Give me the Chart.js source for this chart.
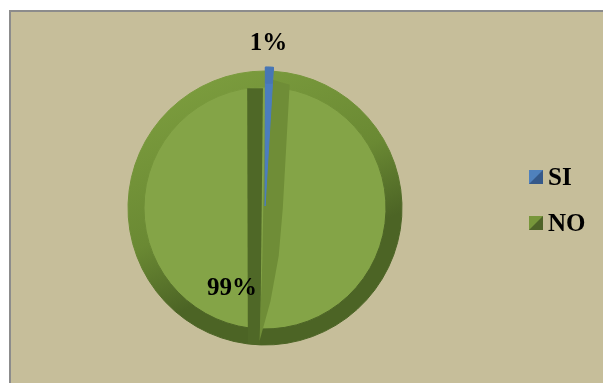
<!DOCTYPE html>
<html>
<head>
<meta charset="utf-8">
<script src="https://cdn.jsdelivr.net/npm/chart.js@4/dist/chart.umd.min.js"></script>
<style>
  html, body { margin: 0; padding: 0; background: #ffffff; }
  canvas { display: block; }
</style>
</head>
<body>
<canvas id="pie" width="603" height="383"></canvas>
<script>
// Answers to the survey question
const categories = ['SI', 'NO'];
const shares = [1, 99];

// Slice colours: flat face, bevelled rim, legend swatch halves
const faceColors = ['#4B7DBF', '#84A447'];
const rimLight = ['#4776B5', '#7C9D3E'];
const rimDark = ['#355E94', '#4C6425'];
const swatchLight = ['#4F81BD', '#77963A'];
const swatchDark = ['#35598A', '#4E6328'];

const FONT = 'bold 25px "Liberation Serif", "Times New Roman", serif';

function rimGradient(ctx, i) {
  const chart = ctx.chart;
  const area = chart.chartArea;
  if (!area) return rimLight[i];
  const cx = (area.left + area.right) / 2;
  const cy = (area.top + area.bottom) / 2;
  const r = (area.right - area.left) / 2;
  const g = chart.ctx.createLinearGradient(cx - r * 0.45, cy - r, cx + r * 0.45, cy + r);
  g.addColorStop(0, rimLight[i]);
  g.addColorStop(0.45, i === 1 ? '#6A8933' : rimLight[i]);
  g.addColorStop(0.7, rimDark[i]);
  g.addColorStop(1, rimDark[i]);
  return g;
}

// Panel background with its grey frame
const backdrop = {
  id: 'backdrop',
  beforeDraw(chart) {
    const c = chart.ctx;
    c.save();
    c.fillStyle = '#ffffff';
    c.fillRect(0, 0, chart.width, chart.height);
    c.fillStyle = '#C6BE9A';
    c.fillRect(10, 11, chart.width - 10, chart.height - 11);
    c.fillStyle = '#8C8C8C';
    c.fillRect(9, 10, 2, chart.height - 10);
    c.fillRect(9, 10, chart.width - 9, 2);
    c.restore();
  }
};

// Bevel facets along the slice edges, then the small slice on top
const bevel = {
  id: 'bevel',
  afterDatasetsDraw(chart) {
    const c = chart.ctx;
    const rimMeta = chart.getDatasetMeta(0);
    const faceMeta = chart.getDatasetMeta(1);
    const big = rimMeta.data[1];
    const cx = big.x, cy = big.y, r = big.outerRadius;
    c.save();
    c.beginPath();
    c.arc(cx, cy, r, 0, Math.PI * 2);
    c.clip();
    // shadowed facet (left of the seam)
    c.fillStyle = '#4F6827';
    c.beginPath();
    c.moveTo(cx - r * 0.13, cy - r * 0.875);
    c.lineTo(cx - r * 0.015, cy - r * 0.875);
    c.lineTo(cx - r * 0.035, cy + r * 1.05);
    c.lineTo(cx - r * 0.125, cy + r * 1.05);
    c.closePath();
    c.fill();
    // lit facet (right of the seam)
    c.fillStyle = '#6F8D37';
    c.beginPath();
    c.moveTo(cx + r * 0.005, cy - r * 0.95);
    c.lineTo(cx + r * 0.18, cy - r * 0.9);
    c.lineTo(cx + r * 0.13, cy);
    c.lineTo(cx + r * 0.1, cy + r * 0.35);
    c.lineTo(cx + r * 0.04, cy + r * 0.68);
    c.lineTo(cx - r * 0.04, cy + r * 0.97);
    c.lineTo(cx - r * 0.02, cy + r * 0.4);
    c.closePath();
    c.fill();
    c.restore();
    // the small slice is drawn again above the facets
    faceMeta.data[0].draw(c);
    rimMeta.data[0].draw(c);
  }
};

// Percentage labels for each slice
const pctLabels = {
  id: 'pctLabels',
  afterDraw(chart) {
    const c = chart.ctx;
    const total = shares.reduce((a, b) => a + b, 0);
    const rimMeta = chart.getDatasetMeta(0);
    const big = rimMeta.data[1];
    const cx = big.x, cy = big.y, r = big.outerRadius;
    const radial = [1.2, 0.635];
    const shift = [-0.6, 20.5];
    c.save();
    c.font = FONT;
    c.fillStyle = '#000000';
    c.textAlign = 'center';
    c.textBaseline = 'middle';
    rimMeta.data.forEach((arc, i) => {
      const mid = (arc.startAngle + arc.endAngle) / 2 + shift[i] * Math.PI / 180;
      const x = cx + Math.cos(mid) * r * radial[i];
      const y = cy + Math.sin(mid) * r * radial[i];
      c.fillText(Math.round(shares[i] / total * 100) + '%', x, y);
    });
    c.restore();
  }
};

// Legend with diagonally shaded swatches
const sideLegend = {
  id: 'sideLegend',
  afterDraw(chart) {
    const c = chart.ctx;
    const x0 = 529, size = 14;
    const rows = [170, 216];
    c.save();
    c.font = FONT;
    c.textAlign = 'left';
    c.textBaseline = 'alphabetic';
    categories.forEach((name, i) => {
      const y0 = rows[i];
      c.fillStyle = swatchDark[i];
      c.fillRect(x0, y0, size, size);
      c.fillStyle = swatchLight[i];
      c.beginPath();
      c.moveTo(x0, y0);
      c.lineTo(x0 + size, y0);
      c.lineTo(x0, y0 + size);
      c.closePath();
      c.fill();
      c.fillStyle = '#000000';
      c.fillText(name, x0 + 19, y0 + 14.5);
    });
    c.restore();
  }
};

new Chart(document.getElementById('pie'), {
  type: 'pie',
  data: {
    labels: categories,
    datasets: [
      {
        data: shares,
        weight: 16,
        backgroundColor: (ctx) => rimGradient(ctx, ctx.dataIndex),
        borderColor: (ctx) => rimGradient(ctx, ctx.dataIndex),
        borderWidth: 1,
        offset: [8, 0]
      },
      {
        data: shares,
        weight: 121,
        backgroundColor: faceColors,
        borderColor: faceColors,
        borderWidth: 1,
        offset: [8, 0]
      }
    ]
  },
  options: {
    responsive: false,
    animation: false,
    devicePixelRatio: 1,
    events: [],
    radius: 137,
    layout: { padding: { left: 128, right: 201, top: 70, bottom: 37 } },
    plugins: {
      legend: { display: false },
      tooltip: { enabled: false }
    }
  },
  plugins: [backdrop, bevel, pctLabels, sideLegend]
});
</script>
</body>
</html>
